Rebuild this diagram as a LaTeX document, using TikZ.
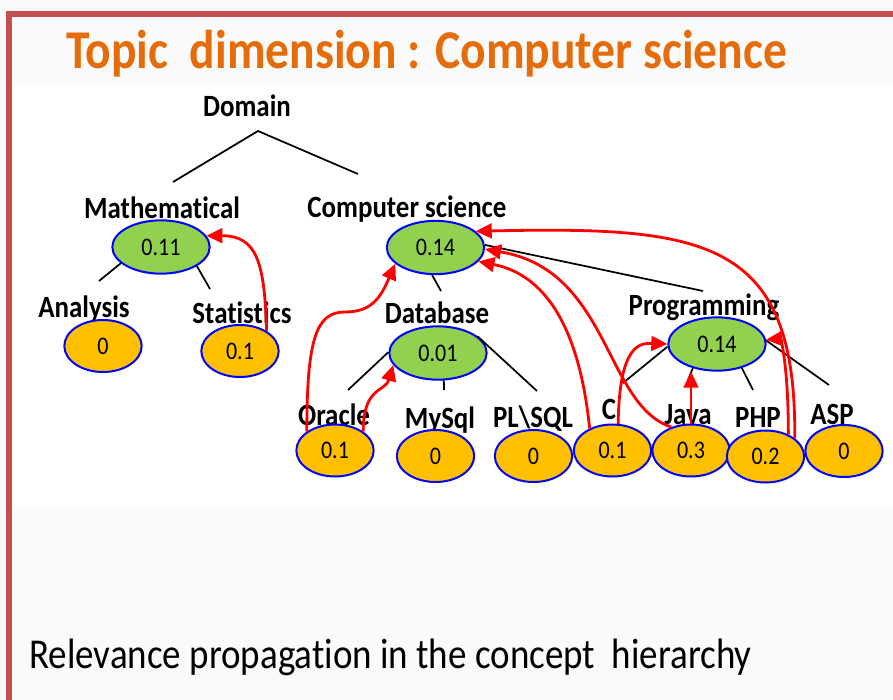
\documentclass[tikz,border=0pt]{standalone}
\usepackage{fontspec}
\setmainfont{Carlito}[FakeStretch=0.87,Ligatures=NoCommon]
\usepackage{tikz}
\usetikzlibrary{arrows.meta,shapes.geometric}
\definecolor{slidegray}{HTML}{FAFAFA}
\definecolor{framered}{HTML}{C0504D}
\definecolor{titleorange}{HTML}{E46C0A}
\definecolor{ellblue}{HTML}{0000FF}
\definecolor{ellgreen}{HTML}{92D050}
\definecolor{ellorange}{HTML}{FFC000}
\tikzset{
  lbl/.style={font=\fontsize{23.2}{27}\selectfont\bfseries,anchor=base,inner sep=0pt},
  inner/.style={ellipse,draw=ellblue,line width=1.5pt,fill=ellgreen,inner sep=0pt,
    minimum width=73pt,minimum height=40pt,font=\fontsize{19}{22}\selectfont},
  leaf/.style={inner,fill=ellorange,minimum width=58pt,minimum height=39pt},
  tree/.style={line width=1.3pt,draw=black},
  prop/.style={-{Triangle[length=12pt,width=11pt]},line width=2.1pt,draw=red}
}
\begin{document}
\begin{tikzpicture}[x=0.75pt,y=-0.75pt]
\useasboundingbox (0,0) rectangle (893,700);
% slide background and frame
\fill[slidegray] (0,0) rectangle (893,700);
\fill[white] (12,87) rectangle (893,505);
\fill[framered] (6,11) rectangle (893,17);
\fill[framered] (6,11) rectangle (12,700);

\node[anchor=base west,font=\fontsize{41}{46}\selectfont\bfseries,text=titleorange,inner sep=0pt]
  (title) at (66,68) {Topic\ \ dimension : Computer science};

% concept labels
\node[lbl] (domaintxt) at (247,116) {Domain};
\node[lbl] (mathtxt) at (162,218) {Mathematical};
\node[lbl] (cstxt) at (407,217) {Computer science};
\node[lbl] (anatxt) at (84,317) {Analysis};
\node[lbl] (stattxt) at (242,323) {Statistics};
\node[lbl] (dbtxt) at (437,323) {Database};
\node[lbl] (progtxt) at (704,315) {Programming};
\node[lbl] (oratxt) at (334,425) {Oracle};
\node[lbl] (mysqltxt) at (440,428) {MySql};
\node[lbl] (plsqltxt) at (533,427) {PL\textbackslash SQL};
\node[lbl] (ctxt) at (609,419) {C};
\node[lbl] (javatxt) at (688,424) {Java};
\node[lbl] (phptxt) at (758,427) {PHP};
\node[lbl] (asptxt) at (832,424) {ASP};

% tree edges
\coordinate (top) at (258,131);
\coordinate (topL) at (173,182);
\coordinate (topR) at (358,174);
\coordinate (mathL) at (99,281);
\coordinate (mathR) at (210,289);
\coordinate (csB) at (441,291);
\coordinate (csR) at (703,291);
\coordinate (dbL) at (348,390);
\coordinate (dbM) at (444,390);
\coordinate (dbR) at (537,391);
\coordinate (progL) at (623,383);
\coordinate (progM) at (688,380);
\coordinate (progN) at (753,390);
\coordinate (progR) at (829,385);
\draw[tree] (topL) -- (top) -- (topR);

% relevance values
\node[inner] (math) at (161,247) {0.11};
\node[inner] (cs) at (435.5,247.5) {0.14};
\node[inner] (db) at (438,353) {0.01};
\node[inner] (prog) at (717,344) {0.14};
\node[leaf] (ana) at (103,346) {0};
\node[leaf] (stat) at (240,351) {0.1};
\node[leaf] (ora) at (335,450.5) {0.1};
\node[leaf] (mysql) at (435.5,456) {0};
\node[leaf] (plsql) at (533.5,456) {0};
\node[leaf] (c) at (612.5,450.5) {0.1};
\node[leaf] (java) at (691,450.5) {0.3};
\node[leaf] (php) at (765.5,456.5) {0.2};
\node[leaf] (asp) at (844,451) {0};

\draw[tree] (math.202) -- (mathL);
\draw[tree] (math.332) -- (mathR);
\draw[tree] (cs.263) -- (csB);
\draw[tree] (cs.3) -- (csR);
\draw[tree] (db.179) -- (dbL);
\draw[tree] (db.282) -- (dbM);
\draw[tree] (db.23) -- (dbR);
\draw[tree] (prog.183) -- (progL);
\draw[tree] (prog.225) -- (progM);
\draw[tree] (prog.316) -- (progN);
\draw[tree] (prog.4) -- (progR);

% propagation
\coordinate (orabend) at (345,312);
\draw[prop] (stat.37) .. controls +(-2,-70) and +(50,0) .. (math.14);
\draw[prop] (ora.146) .. controls +(0,-95) and +(-28,0) .. (orabend)
  .. controls +(28,0) and +(-14,32) .. (cs.202);
\draw[prop] (ora.34) .. controls +(0,-45) and +(-8,27) .. (db.195);
\draw[prop] (c.136) .. controls +(-13,-127) and +(50,10) .. (cs.342);
\draw[prop] (java.130) .. controls +(-67,-22) and +(125,21) .. (cs.358);
\draw[prop] (php.32) .. controls +(2,-200) and +(230,-5) .. (cs.22);
\draw[prop] (c.78) .. controls +(1,-80) and +(-27,-1) .. (prog.180);
\draw[prop] (java.north) -- (prog.south -| java.north);
\draw[prop] (php.44) .. controls +(0,-73) and +(14,-1) .. (prog.5);

\node[anchor=base west,font=\fontsize{31.9}{36}\selectfont,inner sep=0pt]
  (caption) at (29,668) {Relevance propagation in the concept\ \ hierarchy};
\end{tikzpicture}
\end{document}
